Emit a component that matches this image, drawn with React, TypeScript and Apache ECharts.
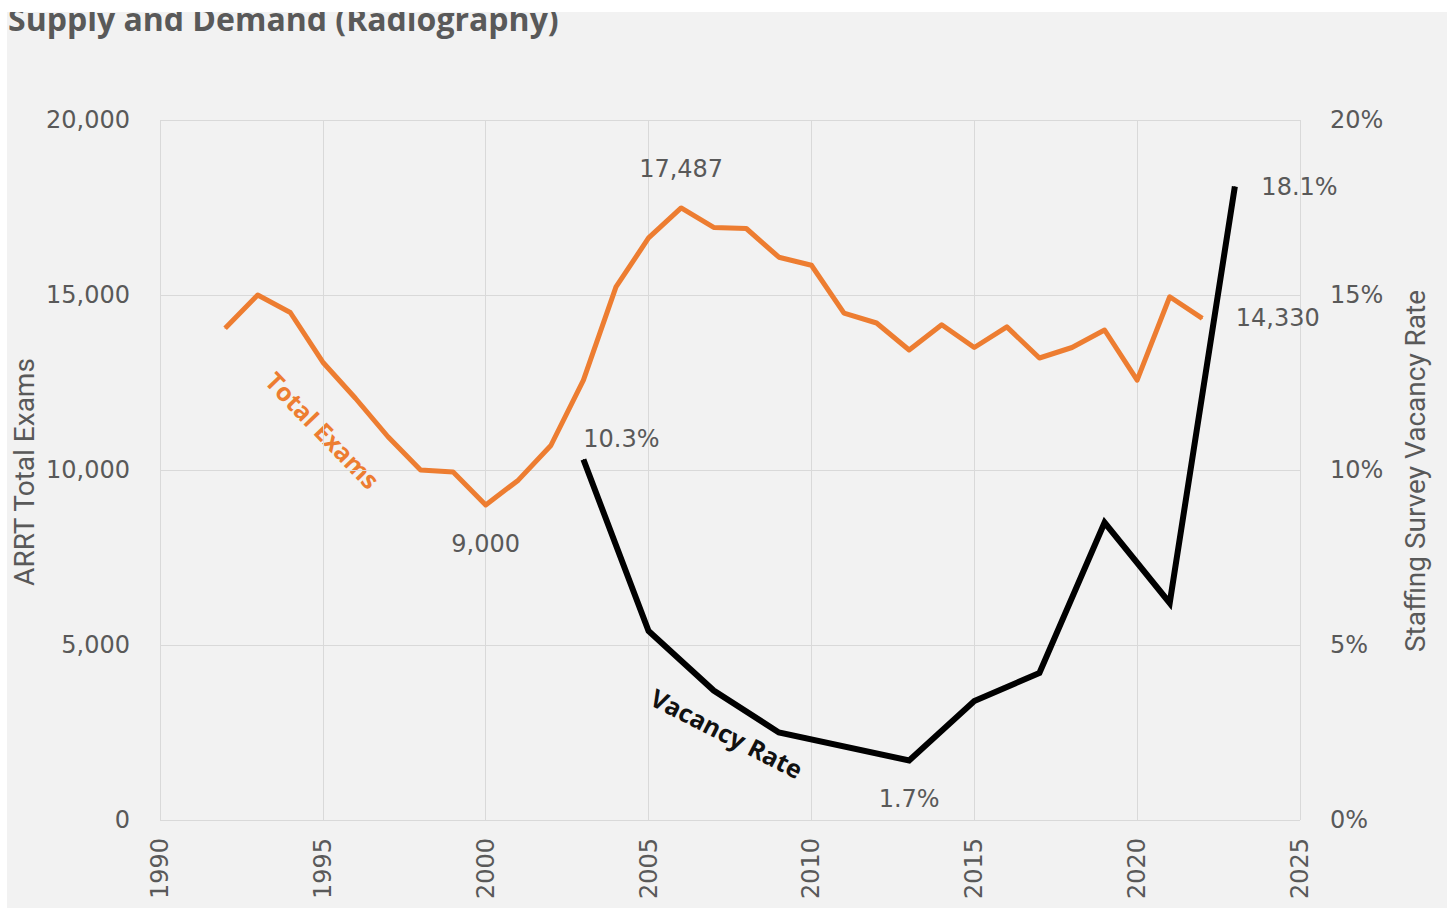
import React, { useEffect, useRef } from "react";
import * as echarts from "echarts";

const examYears = [1992, 1993, 1994, 1995, 1996, 1997, 1998, 1999, 2000, 2001, 2002, 2003, 2004, 2005, 2006, 2007, 2008, 2009, 2010, 2011, 2012, 2013, 2014, 2015, 2016, 2017, 2018, 2019, 2020, 2021, 2022];
const totalExams = [14050, 15000, 14500, 13080, 12050, 10950, 10000, 9940, 9000, 9710, 10700, 12570, 15230, 16630, 17487, 16930, 16900, 16080, 15850, 14480, 14200, 13430, 14150, 13500, 14090, 13200, 13500, 14000, 12570, 14950, 14330];

const vacancyYears = [2003, 2005, 2007, 2009, 2013, 2015, 2017, 2019, 2021, 2023];
const vacancyRate = [10.3, 5.4, 3.7, 2.5, 1.7, 3.4, 4.2, 8.5, 6.2, 18.1];

const examLabelYears = [2006, 2000, 2022];
const examLabelPos = ["top", "bottom", "right"];
const vacancyLabelYears = [2003, 2013, 2023];
const vacancyLabelPos = ["top", "bottom", "right"];

const leftTicks = [0, 5000, 10000, 15000, 20000];
const rightTicks = [0, 5, 10, 15, 20];
const xTicks = [1990, 1995, 2000, 2005, 2010, 2015, 2020, 2025];

const TITLE = "Supply and Demand (Radiography)";
const LEFT_TITLE = "ARRT Total Exams";
const RIGHT_TITLE = "Staffing Survey Vacancy Rate";

const GREY = "#595959";
const ORANGE = "#ED7D31";
const TICK_FONT = "DejaVu Sans";

export default function App() {
  const ref = useRef<HTMLDivElement>(null);

  useEffect(() => {
    if (!ref.current) return;
    const chart = echarts.init(ref.current, null, { renderer: "svg" });

    const labelStyle = {
      show: true,
      color: GREY,
      fontFamily: TICK_FONT,
      fontSize: 24,
    };

    const examData = examYears.map((y, i) => {
      const k = examLabelYears.indexOf(y);
      if (k < 0) return [y, totalExams[i]];
      const pos = examLabelPos[k];
      return {
        value: [y, totalExams[i]],
        label: {
          ...labelStyle,
          position: pos,
          distance: pos === "right" ? 33 : 26,
          formatter: (p: any) => Number(p.value[1]).toLocaleString("en-US"),
        },
      };
    });

    const vacancyData = vacancyYears.map((y, i) => {
      const k = vacancyLabelYears.indexOf(y);
      if (k < 0) return [y, vacancyRate[i]];
      const pos = vacancyLabelPos[k];
      return {
        value: [y, vacancyRate[i]],
        label: {
          ...labelStyle,
          position: pos,
          distance: pos === "top" ? 8 : 26,
          offset: pos === "top" ? [38, 0] : [0, 0],
          formatter: (p: any) => Number(p.value[1]).toFixed(1) + "%",
        },
      };
    });

    chart.setOption({
      animation: false,
      backgroundColor: "#f2f2f2",
      grid: { left: 153, right: 147, top: 108, bottom: 88, containLabel: false },
      xAxis: {
        type: "value",
        min: xTicks[0],
        max: xTicks[xTicks.length - 1],
        interval: 5,
        axisLine: { show: false },
        axisTick: { show: false },
        splitLine: { show: true, lineStyle: { color: "#d9d9d9", width: 1 } },
        axisLabel: {
          rotate: 90,
          margin: 18,
          color: GREY,
          fontFamily: TICK_FONT,
          fontSize: 24,
          formatter: (v: number) => String(v),
        },
      },
      yAxis: [
        {
          type: "value",
          min: leftTicks[0],
          max: leftTicks[leftTicks.length - 1],
          interval: 5000,
          axisLine: { show: false },
          axisTick: { show: false },
          splitLine: { show: true, lineStyle: { color: "#d9d9d9", width: 1 } },
          axisLabel: {
            margin: 30,
            color: GREY,
            fontFamily: TICK_FONT,
            fontSize: 24,
            formatter: (v: number) => v.toLocaleString("en-US"),
          },
        },
        {
          type: "value",
          position: "right",
          min: rightTicks[0],
          max: rightTicks[rightTicks.length - 1],
          interval: 5,
          axisLine: { show: false },
          axisTick: { show: false },
          splitLine: { show: false },
          axisLabel: {
            margin: 30,
            color: GREY,
            fontFamily: TICK_FONT,
            fontSize: 24,
            formatter: (v: number) => v + "%",
          },
        },
      ],
      series: [
        {
          name: "Total Exams",
          type: "line",
          yAxisIndex: 0,
          data: examData,
          symbol: "circle",
          symbolSize: 1,
          showSymbol: true,
          lineStyle: { color: ORANGE, width: 5, join: "round" },
          itemStyle: { color: ORANGE },
          label: { show: false },
          z: 3,
        },
        {
          name: "Vacancy Rate",
          type: "line",
          yAxisIndex: 1,
          data: vacancyData,
          symbol: "circle",
          symbolSize: 1,
          showSymbol: true,
          lineStyle: { color: "#000000", width: 6, join: "miter" },
          itemStyle: { color: "#000000" },
          label: { show: false },
          z: 4,
        },
      ],
      graphic: [
        {
          type: "text",
          x: 1,
          y: 6,
          style: {
            text: TITLE,
            fill: GREY,
            font: 'bold 32px "Open Sans"',
            textAlign: "left",
            textVerticalAlign: "middle",
          },
        },
        {
          type: "text",
          x: 17,
          y: 460,
          rotation: Math.PI / 2,
          style: {
            text: LEFT_TITLE,
            fill: GREY,
            font: '28px "Roboto"',
            textAlign: "center",
            textVerticalAlign: "middle",
          },
        },
        {
          type: "text",
          x: 1408,
          y: 459,
          rotation: Math.PI / 2,
          style: {
            text: RIGHT_TITLE,
            fill: GREY,
            font: '28px "Roboto"',
            textAlign: "center",
            textVerticalAlign: "middle",
          },
        },
        {
          type: "text",
          x: 316,
          y: 418,
          rotation: (-46 * Math.PI) / 180,
          style: {
            text: "Total Exams",
            fill: ORANGE,
            font: 'bold 25px "Open Sans"',
            textAlign: "center",
            textVerticalAlign: "middle",
          },
        },
        {
          type: "text",
          x: 720,
          y: 721,
          rotation: (-27 * Math.PI) / 180,
          style: {
            text: "Vacancy Rate",
            fill: "#111111",
            font: 'bold 25px "Open Sans"',
            textAlign: "center",
            textVerticalAlign: "middle",
          },
        },
      ],
    });

    return () => chart.dispose();
  }, []);

  return (
    <div style={{ position: "fixed", left: 0, top: 0, width: 1450, height: 911, background: "#ffffff" }}>
      <div
        ref={ref}
        style={{ position: "absolute", left: 7, top: 12, width: 1440, height: 896, overflow: "hidden" }}
      />
    </div>
  );
}
